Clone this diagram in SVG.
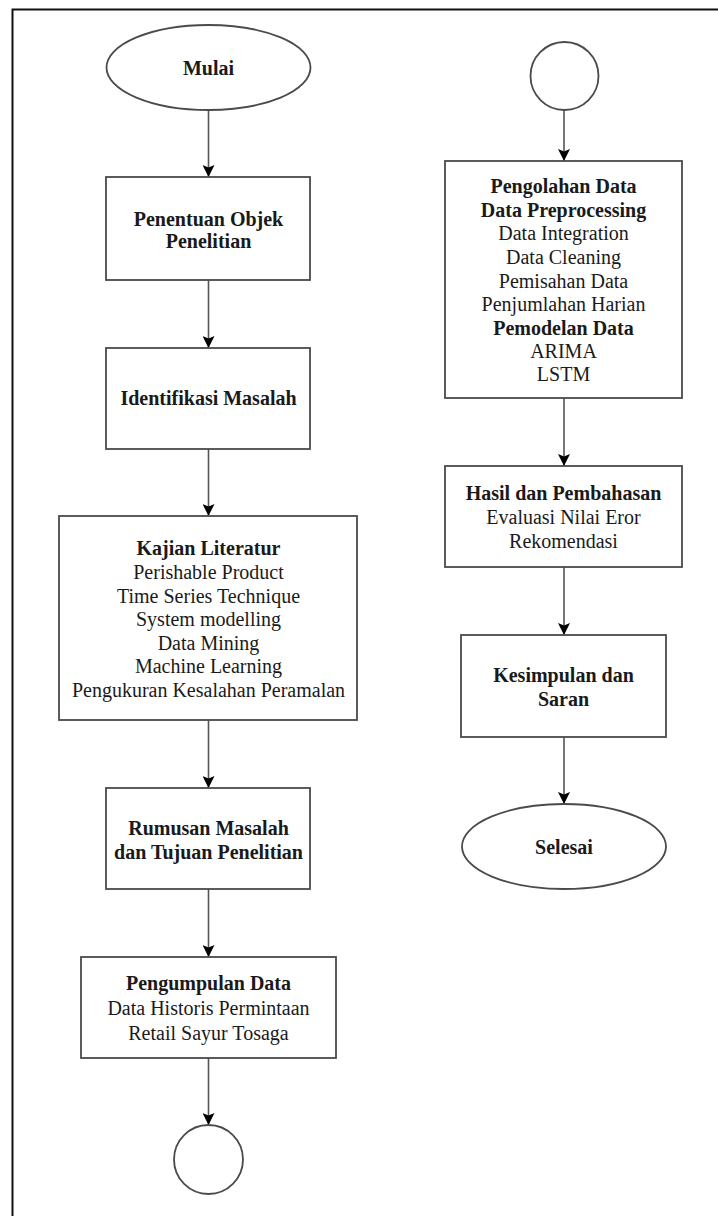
<svg xmlns="http://www.w3.org/2000/svg" width="718" height="1216" viewBox="0 0 718 1216">
<defs>
<style>
.shape{fill:#fff;stroke:#4a4a4a;stroke-width:1.8}
.t{font-family:'Liberation Serif','Tinos','DejaVu Serif',serif;font-size:20px;fill:#1a1a1a;text-anchor:middle}
.b{font-weight:bold}
.conn{stroke:#555;stroke-width:1.6;fill:none;marker-end:url(#arr)}
</style>
<marker id="arr" viewBox="0 0 12 12" refX="12" refY="6" markerWidth="12" markerHeight="12" markerUnits="userSpaceOnUse" orient="auto">
<path d="M0,0 L12,6 L0,12 L2.5,6 z" fill="#000"/>
</marker>
</defs>
<rect width="718" height="1216" fill="#fff"/>
<path d="M12.5,1216 V9.5 H718" fill="none" stroke="#111" stroke-width="2"/>

<g id="connectors">
<line class="conn" x1="208.5" y1="110" x2="208.5" y2="177"/>
<line class="conn" x1="208.5" y1="280" x2="208.5" y2="348"/>
<line class="conn" x1="208.5" y1="449" x2="208.5" y2="516"/>
<line class="conn" x1="208.5" y1="720" x2="208.5" y2="788"/>
<line class="conn" x1="208.5" y1="889" x2="208.5" y2="957"/>
<line class="conn" x1="208.5" y1="1058" x2="208.5" y2="1125"/>
<line class="conn" x1="564" y1="110" x2="564" y2="161"/>
<line class="conn" x1="564" y1="398" x2="564" y2="466"/>
<line class="conn" x1="564" y1="567" x2="564" y2="635"/>
<line class="conn" x1="564" y1="737" x2="564" y2="804"/>
</g>

<g id="mulai">
<ellipse class="shape" cx="208.5" cy="67.5" rx="102" ry="42.5"/>
<text class="t b" x="208.5" y="74.5" font-family="Liberation Serif">Mulai</text>
</g>

<g id="penentuan">
<rect class="shape" x="106" y="177" width="204" height="103"/>
<text class="t b" x="208.5" y="226">Penentuan Objek</text>
<text class="t b" x="208.5" y="248">Penelitian</text>
</g>

<g id="identifikasi">
<rect class="shape" x="106" y="348" width="204" height="101"/>
<text class="t b" x="208.5" y="405">Identifikasi Masalah</text>
</g>

<g id="kajian">
<rect class="shape" x="59" y="516" width="298" height="204"/>
<text class="t b" x="208.5" y="555">Kajian Literatur</text>
<text class="t" x="208.5" y="579">Perishable Product</text>
<text class="t" x="208.5" y="603">Time Series Technique</text>
<text class="t" x="208.5" y="626">System modelling</text>
<text class="t" x="208.5" y="650">Data Mining</text>
<text class="t" x="208.5" y="673">Machine Learning</text>
<text class="t" x="208.5" y="697">Pengukuran Kesalahan Peramalan</text>
</g>

<g id="rumusan">
<rect class="shape" x="106" y="788" width="204" height="101"/>
<text class="t b" x="208.5" y="835">Rumusan Masalah</text>
<text class="t b" x="208.5" y="859">dan Tujuan Penelitian</text>
</g>

<g id="pengumpulan">
<rect class="shape" x="81" y="957" width="255" height="101"/>
<text class="t b" x="208.5" y="990">Pengumpulan Data</text>
<text class="t" x="208.5" y="1015">Data Historis Permintaan</text>
<text class="t" x="208.5" y="1040">Retail Sayur Tosaga</text>
</g>

<g id="connector-out">
<circle class="shape" cx="208.5" cy="1159.5" r="34.5"/>
</g>

<g id="connector-in">
<circle class="shape" cx="564.5" cy="76" r="34"/>
</g>

<g id="pengolahan">
<rect class="shape" x="445" y="161" width="237" height="237"/>
<text class="t b" x="563.5" y="193">Pengolahan Data</text>
<text class="t b" x="563.5" y="217">Data Preprocessing</text>
<text class="t" x="563.5" y="240">Data Integration</text>
<text class="t" x="563.5" y="264">Data Cleaning</text>
<text class="t" x="563.5" y="288">Pemisahan Data</text>
<text class="t" x="563.5" y="311">Penjumlahan Harian</text>
<text class="t b" x="563.5" y="335">Pemodelan Data</text>
<text class="t" x="563.5" y="358">ARIMA</text>
<text class="t" x="563.5" y="381">LSTM</text>
</g>

<g id="hasil">
<rect class="shape" x="445" y="466" width="237" height="101"/>
<text class="t b" x="563.5" y="500">Hasil dan Pembahasan</text>
<text class="t" x="563.5" y="524">Evaluasi Nilai Eror</text>
<text class="t" x="563.5" y="548">Rekomendasi</text>
</g>

<g id="kesimpulan">
<rect class="shape" x="461" y="635" width="205" height="102"/>
<text class="t b" x="563.5" y="682">Kesimpulan dan</text>
<text class="t b" x="563.5" y="706">Saran</text>
</g>

<g id="selesai">
<ellipse class="shape" cx="564" cy="846.5" rx="102" ry="42.5"/>
<text class="t b" x="564" y="854">Selesai</text>
</g>
</svg>
